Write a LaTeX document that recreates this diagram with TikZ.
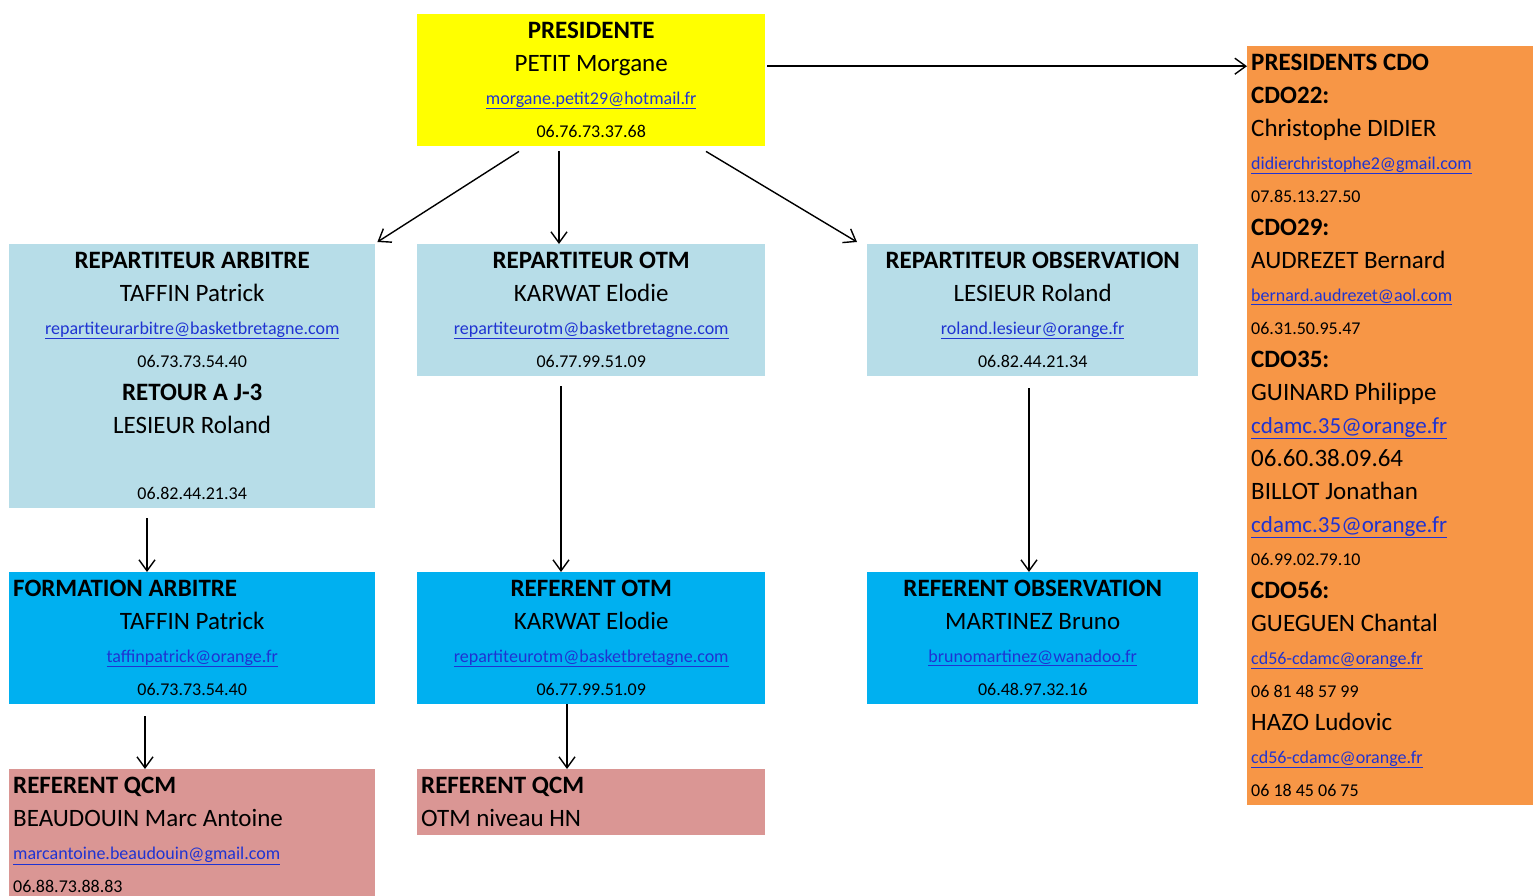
\documentclass[tikz,border=0pt]{standalone}
\usepackage{fontspec}
\setmainfont{Carlito}
\usepackage{tikz}
\usetikzlibrary{arrows.meta}

\definecolor{jaune}{HTML}{FFFF00}
\definecolor{bleuclair}{HTML}{B7DDE8}
\definecolor{bleuvif}{HTML}{00B0F0}
\definecolor{rose}{HTML}{DA9694}
\definecolor{orangecdo}{HTML}{F79646}
\definecolor{lienbleu}{HTML}{1F33D2}

\newcommand\ligne{\rule[-9pt]{0pt}{33pt}}
\newcommand\grand{\fontsize{25}{33}\selectfont}
\newcommand\moyen{\fontsize{23}{33}\selectfont}
\newcommand\petit{\fontsize{18}{33}\selectfont}
\newcommand\courriel[1]{\textcolor{lienbleu}{\underline{#1}}}
\newcommand\agauche[1]{\makebox[\linewidth][l]{#1}}

\begin{document}
\begin{tikzpicture}[x=1pt,y=1pt,
		boite/.style={fill=#1,anchor=north west,inner xsep=4pt,inner ysep=0pt,font=\grand,align=flush center},
		gauche/.style={fill=#1,anchor=north west,inner xsep=4pt,inner ysep=0pt,font=\grand,align=flush left},
		fleche/.style={-{Straight Barb[length=11pt,width=16pt]},line width=1.4pt}]
		
		\useasboundingbox (0,0) rectangle (1533,-896);
		
		%presidente
		\node[boite=jaune,text width=340pt] (presidente) at (417,-14)
		{\ligne\textbf{PRESIDENTE}\\
		 \ligne PETIT Morgane\\
		 \ligne{\petit\courriel{morgane.petit29@hotmail.fr}}\\
		 \ligne{\petit 06.76.73.37.68}};
		
		%repartiteurs
		\node[boite=bleuclair,text width=358pt] (repArbitre) at (9,-244)
		{\ligne\textbf{REPARTITEUR ARBITRE}\\
		 \ligne TAFFIN Patrick\\
		 \ligne{\petit\courriel{repartiteurarbitre@basketbretagne.com}}\\
		 \ligne{\petit 06.73.73.54.40}\\
		 \ligne\textbf{RETOUR A J-3}\\
		 \ligne LESIEUR Roland\\
		 \ligne\\
		 \ligne{\petit 06.82.44.21.34}};
		\node[boite=bleuclair,text width=340pt] (repOtm) at (417,-244)
		{\ligne\textbf{REPARTITEUR OTM}\\
		 \ligne KARWAT Elodie\\
		 \ligne{\petit\courriel{repartiteurotm@basketbretagne.com}}\\
		 \ligne{\petit 06.77.99.51.09}};
		\node[boite=bleuclair,text width=323pt] (repObs) at (867,-244)
		{\ligne\textbf{REPARTITEUR OBSERVATION}\\
		 \ligne LESIEUR Roland\\
		 \ligne{\petit\courriel{roland.lesieur@orange.fr}}\\
		 \ligne{\petit 06.82.44.21.34}};
		
		%referents
		\node[boite=bleuvif,text width=358pt] (formArbitre) at (9,-572)
		{\ligne\agauche{\textbf{FORMATION ARBITRE}}\\
		 \ligne TAFFIN Patrick\\
		 \ligne{\petit\courriel{taffinpatrick@orange.fr}}\\
		 \ligne{\petit 06.73.73.54.40}};
		\node[boite=bleuvif,text width=340pt] (refOtm) at (417,-572)
		{\ligne\textbf{REFERENT OTM}\\
		 \ligne KARWAT Elodie\\
		 \ligne{\petit\courriel{repartiteurotm@basketbretagne.com}}\\
		 \ligne{\petit 06.77.99.51.09}};
		\node[boite=bleuvif,text width=323pt] (refObs) at (867,-572)
		{\ligne\textbf{REFERENT OBSERVATION}\\
		 \ligne MARTINEZ Bruno\\
		 \ligne{\petit\courriel{brunomartinez@wanadoo.fr}}\\
		 \ligne{\petit 06.48.97.32.16}};
		
		%qcm
		\node[gauche=rose,text width=358pt] (qcmArbitre) at (9,-769)
		{\ligne\textbf{REFERENT QCM}\\
		 \ligne BEAUDOUIN Marc Antoine\\
		 \ligne{\petit\courriel{marcantoine.beaudouin@gmail.com}}\\
		 \ligne{\petit 06.88.73.88.83}};
		\node[gauche=rose,text width=340pt] (qcmOtm) at (417,-769)
		{\ligne\textbf{REFERENT QCM}\\
		 \ligne OTM niveau HN};
		
		%presidents cdo
		\node[gauche=orangecdo,text width=282pt] (cdo) at (1247,-46)
		{\ligne\textbf{PRESIDENTS CDO}\\
		 \ligne\textbf{CDO22:}\\
		 \ligne Christophe DIDIER\\
		 \ligne{\petit\courriel{didierchristophe2@gmail.com}}\\
		 \ligne{\petit 07.85.13.27.50}\\
		 \ligne\textbf{CDO29:}\\
		 \ligne AUDREZET Bernard\\
		 \ligne{\petit\courriel{bernard.audrezet@aol.com}}\\
		 \ligne{\petit 06.31.50.95.47}\\
		 \ligne\textbf{CDO35:}\\
		 \ligne GUINARD Philippe\\
		 \ligne{\moyen\courriel{cdamc.35@orange.fr}}\\
		 \ligne 06.60.38.09.64\\
		 \ligne BILLOT Jonathan\\
		 \ligne{\moyen\courriel{cdamc.35@orange.fr}}\\
		 \ligne{\petit 06.99.02.79.10}\\
		 \ligne\textbf{CDO56:}\\
		 \ligne GUEGUEN Chantal\\
		 \ligne{\petit\courriel{cd56-cdamc@orange.fr}}\\
		 \ligne{\petit 06 81 48 57 99}\\
		 \ligne HAZO Ludovic\\
		 \ligne{\petit\courriel{cd56-cdamc@orange.fr}}\\
		 \ligne{\petit 06 18 45 06 75}};
		
		%fleches
		\draw[fleche] ([xshift=2pt,yshift=14pt]presidente.east) -- ([yshift=14pt]presidente.east -| cdo.west);
		\draw[fleche] ([xshift=102pt,yshift=-5pt]presidente.south west) -- ([xshift=2pt,yshift=2pt]repArbitre.north east);
		\draw[fleche] ([xshift=142pt,yshift=-5pt]presidente.south west) -- ([xshift=142pt]repOtm.north west);
		\draw[fleche] ([xshift=289pt,yshift=-5pt]presidente.south west) -- ([xshift=-10pt,yshift=2pt]repObs.north west);
		\foreach \haut/\bas/\dx/\ecart in {repArbitre/formArbitre/138/10,repOtm/refOtm/144/10,repObs/refObs/162/12,formArbitre/qcmArbitre/136/12,refOtm/qcmOtm/150/0}
		{
			\draw[fleche] ([xshift=\dx pt,yshift=-\ecart pt]\haut.south west) -- ([xshift=\dx pt]\bas.north west);
		}
		
	\end{tikzpicture}
\end{document}
